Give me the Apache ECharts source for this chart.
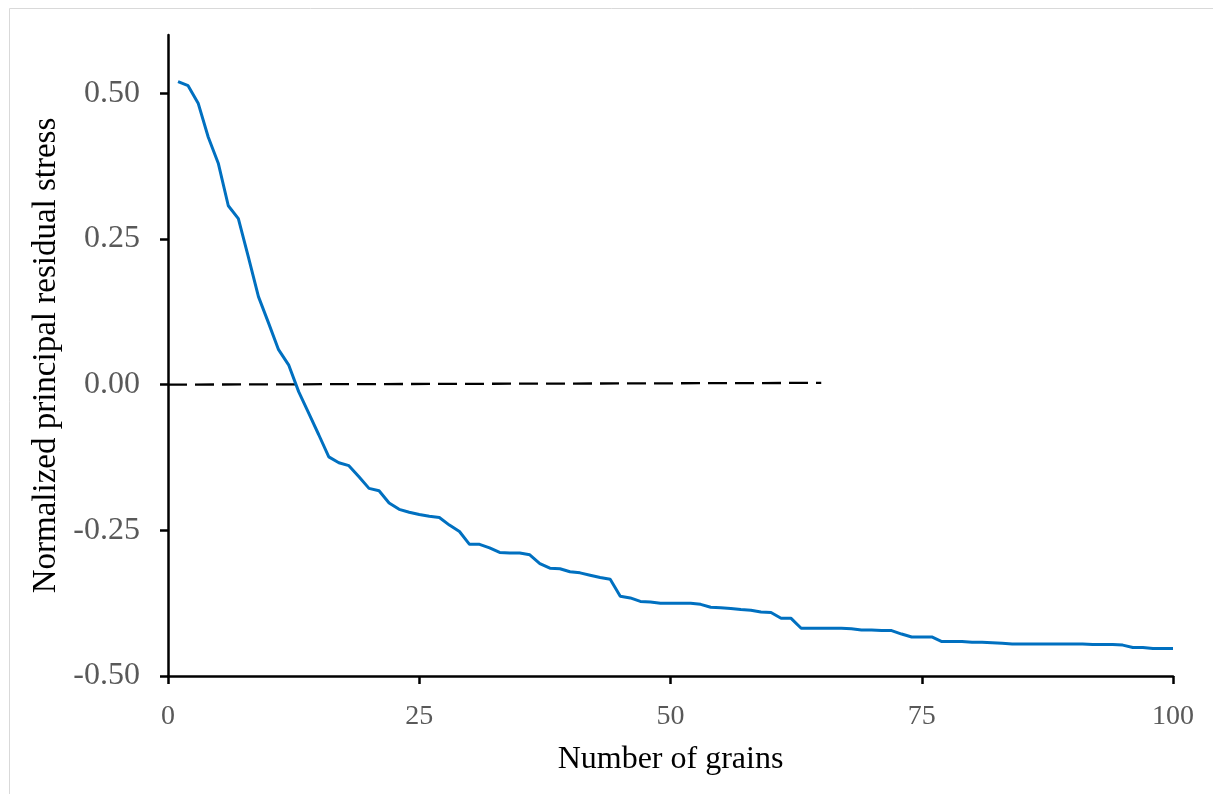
<!DOCTYPE html>
<html>
<head>
<meta charset="utf-8">
<script src="https://cdn.jsdelivr.net/npm/echarts@6/dist/echarts.min.js"></script>
<style>
html,body{margin:0;padding:0;background:#fff;}
#chart{width:1213px;height:794px;}
</style>
</head>
<body>
<div id="chart"></div>
<script>
// Data
const grains = [];
for (let i = 1; i <= 100; i++) grains.push(i);
const stress = [
  0.520, 0.513, 0.483, 0.425, 0.380, 0.307, 0.285, 0.219, 0.151, 0.106,
  0.060, 0.034, -0.012, -0.049, -0.086, -0.124, -0.134, -0.139, -0.158, -0.178,
  -0.182, -0.203, -0.214, -0.219, -0.223, -0.226, -0.228, -0.241, -0.252, -0.274,
  -0.274, -0.280, -0.288, -0.289, -0.289, -0.292, -0.307, -0.315, -0.316, -0.321,
  -0.323, -0.327, -0.331, -0.334, -0.363, -0.366, -0.372, -0.373, -0.375, -0.375,
  -0.375, -0.375, -0.377, -0.382, -0.383, -0.384, -0.386, -0.387, -0.390, -0.391,
  -0.401, -0.401, -0.418, -0.418, -0.418, -0.418, -0.418, -0.419, -0.421, -0.421,
  -0.422, -0.422, -0.428, -0.433, -0.433, -0.433, -0.441, -0.441, -0.441, -0.442,
  -0.442, -0.443, -0.444, -0.445, -0.445, -0.445, -0.445, -0.445, -0.445, -0.445,
  -0.445, -0.446, -0.446, -0.446, -0.447, -0.451, -0.451, -0.453, -0.453, -0.453
];
const zeroLineX = [0, 65];
const zeroLineY = [0, 0.003];
const xTicks = [0, 25, 50, 75, 100];
const yTicks = [-0.5, -0.25, 0, 0.25, 0.5];

const serif = '"Liberation Serif", "DejaVu Serif", serif';
const chart = echarts.init(document.getElementById('chart'));
chart.setOption({
  animation: false,
  backgroundColor: '#fff',
  graphic: [{
    type: 'rect', left: 7, top: 6, silent: true,
    shape: { width: 1220, height: 800 },
    style: { fill: 'none', stroke: '#d9d9d9', lineWidth: 1 }
  }],
  grid: { left: 168, right: 40, top: 35, bottom: 118 },
  xAxis: {
    type: 'value', min: 0, max: 100, interval: 25,
    name: 'Number of grains', nameLocation: 'middle', nameGap: 68,
    nameTextStyle: { fontFamily: serif, fontSize: 32, color: '#000' },
    axisLine: { show: true, onZero: false, lineStyle: { color: '#000', width: 2.5 } },
    axisTick: { show: true, length: 8, lineStyle: { color: '#000', width: 2.5 }, customValues: xTicks },
    axisLabel: { customValues: xTicks, fontFamily: serif, fontSize: 28, color: '#595959', margin: 27 },
    splitLine: { show: false }
  },
  yAxis: {
    type: 'value', min: -0.5, max: 0.6, interval: 0.25,
    name: 'Normalized principal residual stress', nameLocation: 'middle', nameGap: 101,
    nameTextStyle: { fontFamily: serif, fontSize: 33, color: '#000' },
    axisLine: { show: true, onZero: false, lineStyle: { color: '#000', width: 2.5 } },
    axisTick: { show: true, length: 8, lineStyle: { color: '#000', width: 2.5 }, customValues: yTicks },
    axisLabel: { customValues: yTicks, fontFamily: serif, fontSize: 32, color: '#595959', margin: 28,
      formatter: v => v.toFixed(2) },
    splitLine: { show: false }
  },
  series: [
    {
      type: 'line', symbol: 'none',
      data: zeroLineX.map((x, i) => [x, zeroLineY[i]]),
      lineStyle: { color: '#000', width: 2.3, type: [19, 8] },
      z: 1
    },
    {
      type: 'line', symbol: 'none',
      data: grains.map((g, i) => [g, stress[i]]),
      lineStyle: { color: '#0070C0', width: 3 },
      z: 2
    }
  ]
});
</script>
</body>
</html>
